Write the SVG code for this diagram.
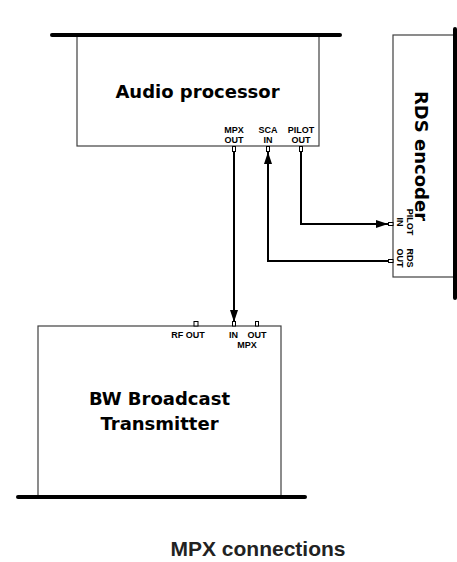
<svg xmlns="http://www.w3.org/2000/svg" width="457" height="562" viewBox="0 0 457 562">
<defs>
<style>
.box{fill:#fff;stroke:#404040;stroke-width:1.2}
.bar{stroke:#000;stroke-width:4;stroke-linecap:round;fill:none}
.port{fill:#fff;stroke:#000;stroke-width:1}
.wire{stroke:#000;stroke-width:2;fill:none}
.big{font-family:"DejaVu Sans",Verdana,sans-serif;font-weight:bold;font-size:18px;fill:#000;text-anchor:middle}
.sm{font-family:"Liberation Sans",Arial,sans-serif;font-weight:bold;font-size:9px;fill:#000;text-anchor:middle}
.title{font-family:"Liberation Sans",Arial,sans-serif;font-weight:bold;font-size:21px;fill:#222;text-anchor:middle}
</style>
<marker id="arr" viewBox="0 0 12 8" refX="12" refY="4" markerWidth="12" markerHeight="8" markerUnits="userSpaceOnUse" orient="auto">
<path d="M0,0 L12,4 L0,8 Z" fill="#000"/>
</marker>
</defs>

<g id="connectors">
<path class="wire" d="M234,152 V322" marker-end="url(#arr)"/>
<path class="wire" d="M389,261 H268 V152" marker-end="url(#arr)"/>
<path class="wire" d="M301,152 V224 H388" marker-end="url(#arr)"/>
</g>

<g id="audio-processor">
<rect class="box" x="77" y="35" width="242" height="111"/>
<line class="bar" x1="52" y1="35" x2="340" y2="35"/>
<text class="big" x="197.5" y="98">Audio processor</text>
<text class="sm" x="234" y="132.5">MPX</text>
<text class="sm" x="234" y="142.5">OUT</text>
<text class="sm" x="268" y="132.5">SCA</text>
<text class="sm" x="268" y="142.5">IN</text>
<text class="sm" x="301" y="132.5">PILOT</text>
<text class="sm" x="301" y="142.5">OUT</text>
<rect class="port" x="232.5" y="146.5" width="3" height="5"/>
<rect class="port" x="266.5" y="146.5" width="3" height="5"/>
<rect class="port" x="299.5" y="146.5" width="3" height="5"/>
</g>

<g id="rds-encoder">
<rect class="box" x="393" y="35" width="62" height="242"/>
<line class="bar" x1="455" y1="29" x2="455" y2="298"/>
<text class="big" transform="translate(415,156) rotate(90)">RDS encoder</text>
<text class="sm" transform="translate(407,222) rotate(90)">PILOT</text>
<text class="sm" transform="translate(397,222) rotate(90)">IN</text>
<text class="sm" transform="translate(407,258) rotate(90)">RDS</text>
<text class="sm" transform="translate(397,258) rotate(90)">OUT</text>
<rect class="port" x="388.5" y="222.5" width="4.5" height="3"/>
<rect class="port" x="388.5" y="259.5" width="4.5" height="3"/>
</g>

<g id="transmitter">
<rect class="box" x="38" y="326" width="243" height="171"/>
<line class="bar" x1="18" y1="497" x2="305" y2="497"/>
<text class="big" x="159.5" y="405">BW Broadcast</text>
<text class="big" x="159.5" y="430">Transmitter</text>
<rect class="port" x="194" y="321.5" width="4" height="4.5"/>
<rect class="port" x="232.5" y="321.5" width="3" height="4.5"/>
<rect class="port" x="255.5" y="321.5" width="3" height="4.5"/>
<text class="sm" x="188" y="337.5">RF OUT</text>
<text class="sm" x="233.5" y="337.5">IN</text>
<text class="sm" x="257" y="337.5">OUT</text>
<text class="sm" x="247" y="347.5">MPX</text>
</g>

<text class="title" x="258" y="556">MPX connections</text>
</svg>
